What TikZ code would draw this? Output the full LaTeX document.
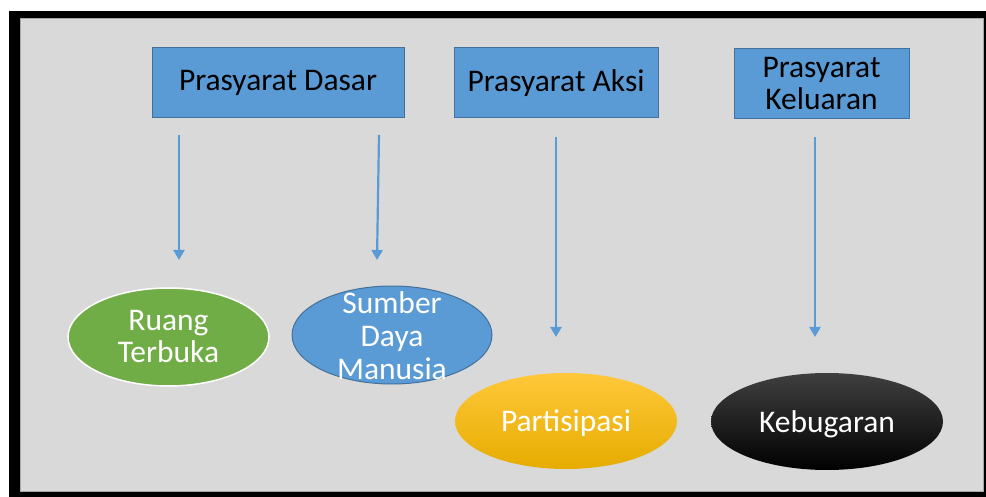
\documentclass[tikz,border=0pt]{standalone}
\usepackage{fontspec}
\setmainfont{Carlito}
\usetikzlibrary{arrows.meta,shapes.geometric}
\definecolor{bg}{HTML}{D9D9D9}
\definecolor{accblue}{HTML}{5B9BD5}
\definecolor{accblueline}{HTML}{41719C}
\definecolor{accgreen}{HTML}{70AD47}
\definecolor{goldtop}{HTML}{FFC83A}
\definecolor{goldmid}{HTML}{FFC000}
\definecolor{goldbot}{HTML}{E6AC00}
\tikzset{
  hdrbox/.style={draw=accblueline, line width=1pt, fill=accblue, inner sep=0pt, align=center,
    font=\fontsize{31.5}{32}\selectfont, text=black},
  oval/.style={ellipse, inner sep=0pt, align=center, font=\fontsize{31.5}{32}\selectfont, text=white},
  lowtext/.style={text height=26pt, text depth=5pt},
  conn/.style={draw=accblue, line width=2.2pt, -{Triangle[width=11pt,length=10pt]}}
}
\begin{document}
\begin{tikzpicture}[x=1pt,y=-1pt]
\useasboundingbox (0,0) rectangle (986,497);
\fill[white] (0,0) rectangle (986,497);
\fill[black] (9,11) rectangle (986,497);
\filldraw[fill=bg, draw=gray!70, line width=0.8pt] (20,18) rectangle (983,491);

\node[hdrbox, minimum width=252pt, minimum height=70pt] (dasar) at (278,83) {Prasyarat Dasar};
\node[hdrbox, minimum width=204pt, minimum height=70pt] (aksi) at (556,83) {Prasyarat Aksi};
\node[hdrbox, minimum width=175pt, minimum height=70pt] (keluaran) at (821.5,84) {Prasyarat\\Keluaran};

\node[oval, fill=accgreen, draw=white, line width=1.5pt, minimum width=201pt, minimum height=98pt] (ruang) at (168.5,337) {Ruang\\Terbuka};
\node[oval, fill=accblue, draw=accblueline, line width=1pt, minimum width=200pt, minimum height=98pt] (sdm) at (392,335) {};
\node[font=\fontsize{31.5}{33}\selectfont, text=white, align=center] (sdmtxt) at (392,336) {Sumber\\Daya\\Manusia};
\node[oval, lowtext, top color=goldtop, middle color=goldmid, bottom color=goldbot, minimum width=222pt, minimum height=96pt] (partisipasi) at (566,421) {Partisipasi};
\node[oval, lowtext, top color=black!75, middle color=black, bottom color=black, minimum width=232pt, minimum height=97pt] (kebugaran) at (827,421.5) {Kebugaran};

\coordinate (a1s) at (179,135);
\coordinate (a1e) at (179,260);
\coordinate (a2s) at (379,135);
\coordinate (a2e) at (377,260);
\coordinate (a3s) at (556,137);
\coordinate (a3e) at (556,337);
\coordinate (a4s) at (815,137);
\coordinate (a4e) at (815,337);
\draw[conn] (a1s) -- (a1e);
\draw[conn] (a2s) -- (a2e);
\draw[conn] (a3s) -- (a3e);
\draw[conn] (a4s) -- (a4e);
\end{tikzpicture}
\end{document}
